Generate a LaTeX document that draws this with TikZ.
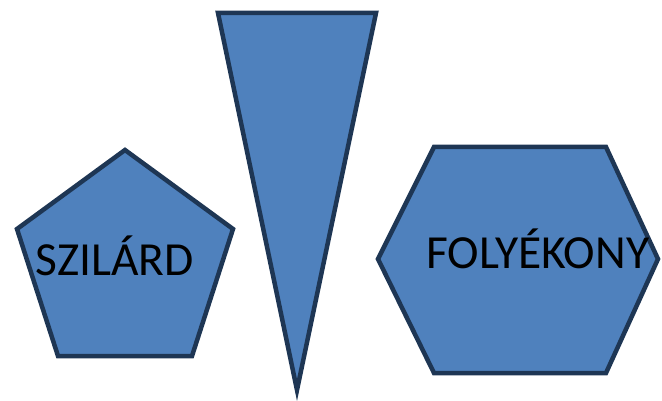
\documentclass[tikz,border=0pt]{standalone}
\usepackage{fontspec}
\setmainfont{Carlito}
\definecolor{shapefill}{RGB}{79,129,189}
\definecolor{shapeline}{RGB}{30,54,84}
\begin{document}
\begin{tikzpicture}[x=1pt,y=-1pt,
  shapestyle/.style={fill=shapefill,draw=shapeline,line width=4.5pt,line join=miter},
  labelstyle/.style={font=\fontsize{47.5}{52}\selectfont,text=black,inner sep=0pt,anchor=base west}]
\useasboundingbox (0,0) rectangle (662,401);
% pentagon
\draw[shapestyle] (125,150) -- (233,229) -- (192,356) -- (58,356) -- (17,229) -- cycle;
% triangle
\draw[shapestyle] (218,13) -- (376,13) -- (297,390) -- cycle;
% hexagon
\draw[shapestyle] (434,147) -- (606,147) -- (658,259) -- (606,373) -- (434,373) -- (378,259) -- cycle;
\node[labelstyle] (szilard) at (35,276) {SZILÁRD};
\node[labelstyle] (folyekony) at (426,269) {FOLYÉKONY};
\end{tikzpicture}
\end{document}
